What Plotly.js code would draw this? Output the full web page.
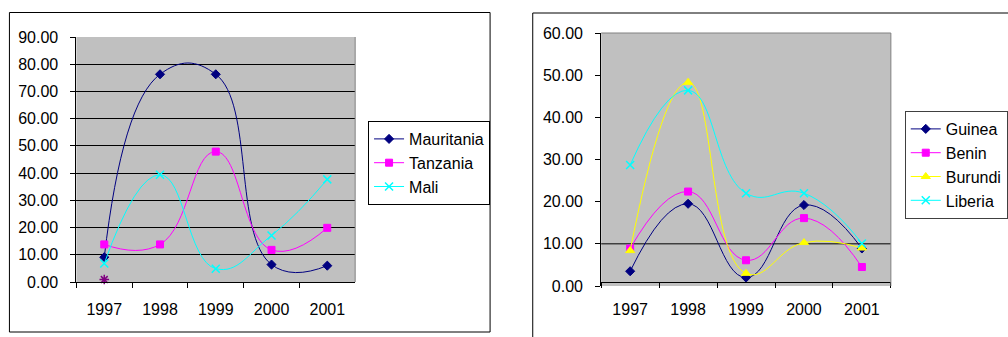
<!DOCTYPE html>
<html>
<head>
<meta charset="utf-8">
<script src="https://cdn.plot.ly/plotly-3.0.1.min.js"></script>
<style>
  html, body { margin: 0; padding: 0; background: #ffffff; }
  #chart { width: 1008px; height: 337px; }
</style>
</head>
<body>
<div id="chart"></div>
<script>
// Years on the category axis (shared by both panels)
const years = ['1997', '1998', '1999', '2000', '2001'];

// Left panel series
const mauritania = [9.1, 76.3, 76.3, 6.4, 6.0];
const tanzania   = [13.8, 13.8, 47.9, 11.8, 19.9];
const mali       = [6.8, 39.4, 4.9, 17.1, 37.7];
const extraPoint = [0.9, null, null, null, null];

// Right panel series
const guinea  = [3.5, 19.5, 2.0, 19.2, 8.9];
const benin   = [8.9, 22.4, 6.1, 16.1, 4.5];
const burundi = [8.4, 48.3, 3.0, 10.3, 9.0];
const liberia = [28.7, 46.4, 22.0, 22.0, 10.1];

// Axis tick values
const leftTicks  = [0, 10, 20, 30, 40, 50, 60, 70, 80, 90];
const rightTicks = [0, 10, 20, 30, 40, 50, 60];
const rightGridAt = 10;

const W = 1008, H = 337;
const px = v => v / W;
const py = v => 1 - v / H;

const FONT = '"Liberation Sans", Arial, sans-serif';

function series(y, name, color, symbol, size, xa, ya, legend, extra) {
  return Object.assign({
    type: 'scatter', mode: 'lines+markers',
    x: years, y: y, name: name,
    xaxis: xa, yaxis: ya, legend: legend, legendgroup: name,
    line: { color: color, width: 1, shape: 'spline', smoothing: 1.3 },
    marker: { color: color, symbol: symbol, size: size,
              line: { color: color, width: 1 } },
    cliponaxis: false
  }, extra || {});
}

const crossMarker = c => ({ color: c, symbol: 'x-thin-open', size: 8, line: { color: c, width: 1.5 } });

const traces = [
  series(mauritania, 'Mauritania', '#000080', 'diamond', 7, 'x', 'y', 'legend'),
  series(tanzania, 'Tanzania', '#FF00FF', 'square', 7, 'x', 'y', 'legend'),
  series(mali, 'Mali', '#00FFFF', 'x-thin-open', 8, 'x', 'y', 'legend',
         { marker: crossMarker('#00FFFF') }),
  series(extraPoint, '', '#800080', 'asterisk-open', 8, 'x', 'y', 'legend',
         { mode: 'markers', showlegend: false,
           marker: { color: '#800080', symbol: 'asterisk-open', size: 8, line: { color: '#800080', width: 1.5 } } }),

  series(guinea, 'Guinea', '#000080', 'diamond', 7, 'x2', 'y2', 'legend2'),
  series(benin, 'Benin', '#FF00FF', 'square', 7, 'x2', 'y2', 'legend2'),
  series(burundi, 'Burundi', '#FFFF00', 'triangle-up', 8, 'x2', 'y2', 'legend2'),
  series(liberia, 'Liberia', '#00FFFF', 'x-thin-open', 8, 'x2', 'y2', 'legend2',
         { marker: crossMarker('#00FFFF') })
];

function xAxis(domain) {
  return {
    type: 'category', domain: domain, range: [-0.5, 4.5], fixedrange: true,
    showgrid: false, zeroline: false,
    showline: true, linecolor: '#000000', linewidth: 1,
    ticks: 'outside', tickson: 'boundaries', ticklen: 5, tickcolor: '#000000', tickwidth: 1,
    ticklabelstandoff: 13,
    tickfont: { family: FONT, size: 16, color: '#000000' },
    automargin: false
  };
}

function yAxis(domain, ticks, anchor, grid) {
  return {
    domain: domain, range: [ticks[0], ticks[ticks.length - 1]], fixedrange: true,
    tickvals: ticks, ticktext: ticks.map(v => v.toFixed(2)),
    showgrid: grid, gridcolor: '#000000', gridwidth: 1,
    zeroline: false, anchor: anchor,
    showline: true, linecolor: '#000000', linewidth: 1,
    ticks: 'outside', ticklen: 5, tickcolor: '#000000', tickwidth: 1,
    ticklabelstandoff: 9,
    tickfont: { family: FONT, size: 16, color: '#000000' },
    automargin: false
  };
}

const layout = {
  width: W, height: H,
  margin: { l: 0, r: 0, t: 0, b: 0, pad: 0 },
  paper_bgcolor: '#ffffff',
  plot_bgcolor: '#C0C0C0',
  font: { family: FONT, color: '#000000' },
  showlegend: true,
  xaxis: xAxis([px(77), px(358)]),
  yaxis: yAxis([py(282), py(37)], leftTicks, 'x', true),
  xaxis2: xAxis([px(606), px(898)]),
  yaxis2: yAxis([py(286), py(33)], rightTicks, 'x2', false),
  legend: {
    x: px(371), y: py(121), xanchor: 'left', yanchor: 'top',
    bgcolor: '#ffffff', bordercolor: '#000000', borderwidth: 1,
    font: { family: FONT, size: 16, color: '#000000' },
    tracegroupgap: 1, itemwidth: 30, traceorder: 'normal'
  },
  legend2: {
    x: px(912), y: py(111), xanchor: 'left', yanchor: 'top',
    bgcolor: '#ffffff', bordercolor: '#404040', borderwidth: 1,
    font: { family: FONT, size: 16, color: '#000000' },
    tracegroupgap: 4, itemwidth: 30, traceorder: 'normal'
  },
  shapes: [
    // chart frames
    { type: 'rect', xref: 'paper', yref: 'paper',
      x0: px(9.5), x1: px(494), y0: py(332), y1: py(12.5),
      line: { color: '#000000', width: 1 }, fillcolor: 'rgba(0,0,0,0)', layer: 'below' },
    { type: 'rect', xref: 'paper', yref: 'paper',
      x0: px(537), x1: px(1020), y0: py(350), y1: py(13),
      line: { color: '#000000', width: 1 }, fillcolor: 'rgba(0,0,0,0)', layer: 'below' },
    // plot-area borders (right edge, and top edge on the right panel)
    { type: 'line', xref: 'x domain', yref: 'y domain', x0: 1, x1: 1, y0: 0, y1: 1,
      line: { color: '#808080', width: 1 } },
    { type: 'line', xref: 'x2 domain', yref: 'y2 domain', x0: 1, x1: 1, y0: 0, y1: 1,
      line: { color: '#808080', width: 1 } },
    { type: 'line', xref: 'x2 domain', yref: 'y2 domain', x0: 0, x1: 1, y0: 1, y1: 1,
      line: { color: '#808080', width: 1 } },
    // single gridline on the right panel
    { type: 'line', xref: 'x2 domain', yref: 'y2', x0: 0, x1: 1, y0: rightGridAt, y1: rightGridAt,
      line: { color: '#000000', width: 1 }, layer: 'below' }
  ]
};

Plotly.newPlot('chart', traces, layout, { staticPlot: true, displayModeBar: false });
</script>
</body>
</html>
